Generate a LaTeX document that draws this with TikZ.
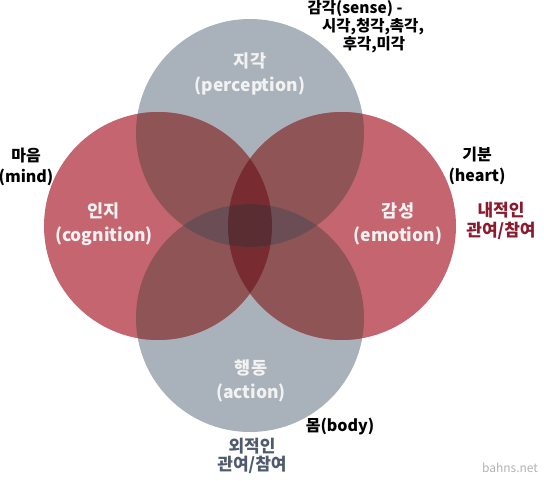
\documentclass[tikz,border=0pt]{standalone}
\usepackage{fontspec}
\setmainfont{Noto Sans CJK KR}
\usetikzlibrary{positioning}
\definecolor{vngray}{HTML}{A9B1BA}
\definecolor{vnred}{HTML}{C46570}
\definecolor{vnmix}{HTML}{8F5456}
\definecolor{vndeep}{HTML}{782B31}
\definecolor{vnslate}{HTML}{6B4E55}
\definecolor{vncore}{HTML}{5A2D33}
\definecolor{vninner}{HTML}{8B1A2E}
\definecolor{vnouter}{HTML}{4F5A6E}
\newcommand{\vrad}{114}
\tikzset{
  clbl/.style={text=white!95!black, align=center, font=\bfseries\fontsize{17.5}{24}\selectfont},
  olbl/.style={text=black, align=center, inner sep=0pt, font=\bfseries\fontsize{16}{21}\selectfont},
  slbl/.style={olbl, font=\bfseries\fontsize{15.5}{17}\selectfont},
  ring/.style={radius=\vrad},
}

\begin{document}
\begin{tikzpicture}[x=1pt,y=-1pt]
  \useasboundingbox (0,0) rectangle (544,480);
  \coordinate (T) at (250,133); \coordinate (B) at (250,318);
  \coordinate (L) at (158,226); \coordinate (R) at (342,226);
  % base circles
  \fill[vngray] (T) circle[ring] (B) circle[ring];
  \fill[vnred] (L) circle[ring] (R) circle[ring];
  % overlaps
  \begin{scope}\clip (T) circle[ring] (B) circle[ring]; \fill[vnmix] (L) circle[ring] (R) circle[ring];\end{scope}
  \begin{scope}\clip (L) circle[ring]; \fill[vndeep] (R) circle[ring];\end{scope}
  \begin{scope}\clip (T) circle[ring]; \fill[vnslate] (B) circle[ring];\end{scope}
  \begin{scope}\clip (T) circle[ring]; \clip (B) circle[ring]; \clip (L) circle[ring]; \fill[vncore] (R) circle[ring];\end{scope}
  % circle labels
  \node[clbl] (perc) at (250,74) {지각\\(perception)};
  \node[clbl] (cogn) at (104,224) {인지\\(cognition)};
  \node[clbl] (emot) at (398,224) {감성\\(emotion)};
  \node[clbl] (actn) at (251,381) {행동\\(action)};
  % outer labels
  \node[slbl] (sensea) at (355,9) {감각(sense) -};
  \node[slbl] (senseb) at (373,27) {시각,청각,촉각,};
  \node[slbl] (sensec) at (374,45) {후각,미각};
  \node[olbl] (mind) at (26,167) {마음\\(mind)};
  \node[olbl] (heart) at (477,166) {기분\\(heart)};
  \node[olbl] (body) at (340,427) {몸(body)};
  \node[olbl, text=vninner, font=\bfseries\fontsize{17}{19.5}\selectfont] (inner) at (501,221) {내적인\\관여/참여};
  \node[olbl, text=vnouter, font=\bfseries\fontsize{17}{18.5}\selectfont] (outer) at (252,456) {외적인\\관여/참여};
  \node[text=black!30, inner sep=0pt, font=\fontsize{12}{12}\selectfont] (site) at (510,468) {bahns.net};
\end{tikzpicture}
\end{document}
